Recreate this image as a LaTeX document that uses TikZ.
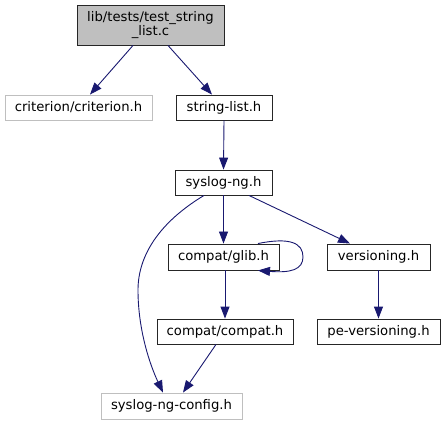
\documentclass[tikz,border=0pt]{standalone}
\usepackage{fontspec}
\setmainfont{DejaVu Sans}
\usetikzlibrary{arrows.meta}
\definecolor{edgeblue}{HTML}{191970}
\definecolor{fillgray}{HTML}{BFBFBF}
\definecolor{bordergray}{HTML}{BFBFBF}
\begin{document}
\begin{tikzpicture}[x=1pt,y=-1pt,
  every node/.style={font=\fontsize{13.2}{14.5}\selectfont, inner sep=0pt, align=center},
  filebox/.style={draw=black!85, line width=0.9pt, fill=white},
  extbox/.style={draw=bordergray, line width=0.9pt, fill=white},
  mainbox/.style={draw=black!85, line width=0.9pt, fill=fillgray},
  dep/.style={draw=edgeblue, line width=0.9pt, -{Triangle[length=12pt,width=9pt]}}]
\useasboundingbox (0,0) rectangle (445,425);
\node[mainbox, minimum width=147pt, minimum height=40pt] (main) at (150.5,25) {lib/tests/test\_string\\\_list.c};
\node[extbox, minimum width=147pt, minimum height=25pt] (crit) at (78.5,107.5) {criterion/criterion.h};
\node[filebox, minimum width=96pt, minimum height=25pt] (sl) at (224,107.5) {string-list.h};
\node[filebox, minimum width=97pt, minimum height=25pt] (sng) at (223.5,182.5) {syslog-ng.h};
\node[filebox, minimum width=111pt, minimum height=26pt] (glib) at (223.5,257) {compat/glib.h};
\node[filebox, minimum width=103pt, minimum height=26pt] (ver) at (378.5,257) {versioning.h};
\node[filebox, minimum width=136pt, minimum height=25pt] (compat) at (225,331.5) {compat/compat.h};
\node[filebox, minimum width=123pt, minimum height=25pt] (pever) at (378.5,331.5) {pe-versioning.h};
\node[extbox, minimum width=141pt, minimum height=26pt] (cfg) at (171.5,406) {syslog-ng-config.h};

\draw[dep] ([xshift=-17.5pt]main.south) -- ([xshift=11.5pt]crit.north);
\draw[dep] ([xshift=17.5pt]main.south) -- ([xshift=-12pt]sl.north);
\draw[dep] (sl.south) -- (sng.north);
\draw[dep] (sng.south) -- (glib.north);
\draw[dep] ([xshift=25.5pt]sng.south) -- ([xshift=-28.5pt]ver.north);
\draw[dep] ([xshift=-19.5pt]sng.south) .. controls (160,222) and (138,255) .. (138,290)
   .. controls (138,330) and (150,365) .. ([xshift=-8.5pt]cfg.north);
\draw[dep] ([xshift=34.5pt]glib.north) .. controls (290,237) and (303,243) .. (303,257)
   .. controls (303,270) and (290,273) .. ([xshift=34.5pt]glib.south);
\draw[dep] ([xshift=1.5pt]glib.south) -- (compat.north);
\draw[dep] ([xshift=-9pt]compat.south) -- ([xshift=11.5pt]cfg.north);
\draw[dep] (ver.south) -- (pever.north);
\end{tikzpicture}
\end{document}
